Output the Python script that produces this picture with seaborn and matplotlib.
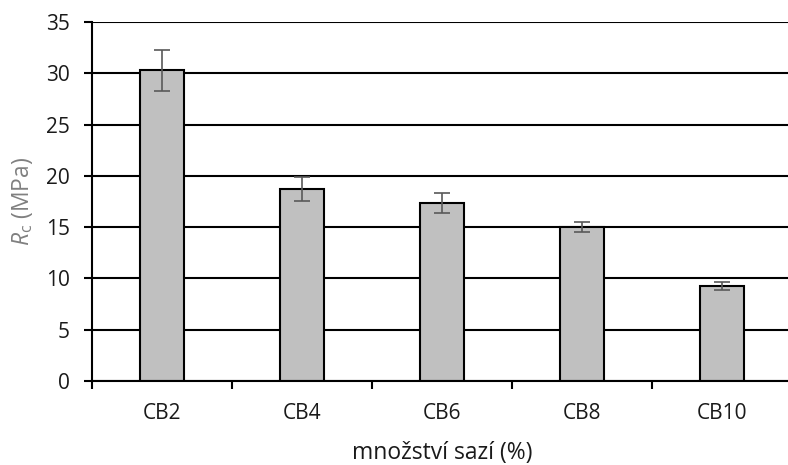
import numpy as np
import pandas as pd
import matplotlib
matplotlib.use("Agg")
import matplotlib.pyplot as plt
import seaborn as sns

categories = ["CB2", "CB4", "CB6", "CB8", "CB10"]
values = [30.3, 18.7, 17.35, 15.0, 9.25]
errors = [2.0, 1.15, 1.0, 0.5, 0.4]
yticks = [0, 5, 10, 15, 20, 25, 30, 35]

sns.set_theme(style="white")
plt.rcParams["font.family"] = ["Open Sans", "DejaVu Sans"]
plt.rcParams["mathtext.fontset"] = "custom"
plt.rcParams["mathtext.rm"] = "Open Sans"
plt.rcParams["mathtext.it"] = "Open Sans:italic"

df = pd.DataFrame({"cat": categories, "val": values})

fig = plt.figure(figsize=(7.88, 4.65), dpi=100)
ax = fig.add_axes([92/788, 84/465, 700/788, 359/465])

sns.barplot(data=df, x="cat", y="val", ax=ax, color="#c0c0c0", saturation=1,
            width=0.315, edgecolor="black", linewidth=1.5, errorbar=None, zorder=3)
ax.errorbar(np.arange(len(categories)), values, yerr=errors, fmt="none",
            ecolor="#595959", elinewidth=1.2, capsize=6, capthick=1.2, zorder=4)

ax.set_ylim(0, 35)
ax.set_xlim(-0.5, len(categories) - 0.5)
ax.set_yticks(yticks)
ax.set_yticklabels([str(t) for t in yticks], fontsize=15, color="#1a1a1a")
ax.yaxis.grid(True, color="black", linewidth=1.5, zorder=0)
ax.set_axisbelow(True)
ax.tick_params(axis="y", which="major", direction="out", length=6, width=1.5,
               color="black", left=True, pad=10)
ax.tick_params(axis="x", which="major", length=0, pad=16, labelsize=15,
               labelcolor="#1a1a1a")
ax.set_xticks(np.arange(len(categories)))
ax.set_xticklabels(categories)
ax.set_xticks(np.arange(len(categories) + 1) - 0.5, minor=True)
ax.tick_params(axis="x", which="minor", direction="out", length=6, width=1.5,
               color="black", bottom=True)

for s in ["top", "right"]:
    ax.spines[s].set_visible(False)
for s in ["left", "bottom"]:
    ax.spines[s].set_color("black")
    ax.spines[s].set_linewidth(1.5)
    ax.spines[s].set_zorder(5)

ax.set_xlabel("množství sazí (%)", fontsize=16.5, color="#1a1a1a", labelpad=12)
ax.set_ylabel(r"$\mathit{R}_\mathrm{c}$ (MPa)", fontsize=16.5, color="#808080", labelpad=8)

fig.savefig("out.png", dpi=100)
